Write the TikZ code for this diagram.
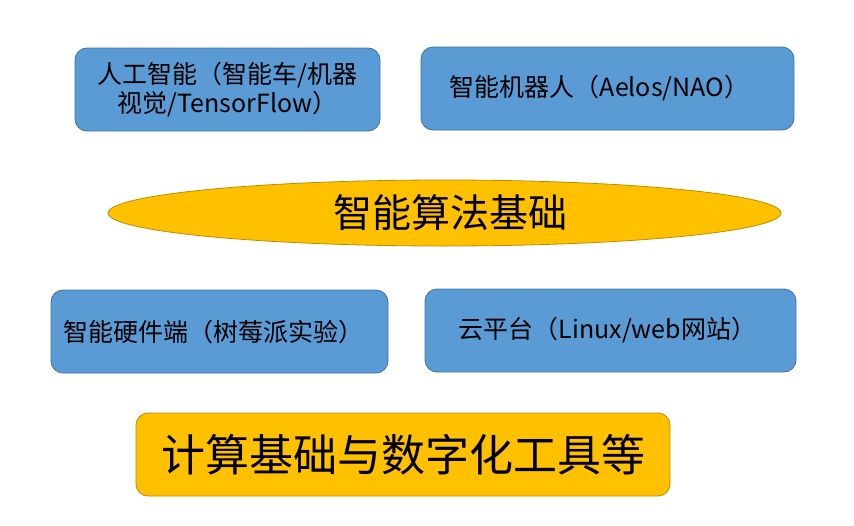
\documentclass[tikz,border=0pt]{standalone}
\usepackage{fontspec}
\setmainfont{Noto Sans CJK SC}
\usetikzlibrary{shapes,positioning,calc}

\definecolor{boxblue}{HTML}{5B9BD5}
\definecolor{lineblue}{HTML}{41719C}
\definecolor{boxgold}{HTML}{FFC000}
\definecolor{linegold}{HTML}{BC8C00}

\begin{document}
\begin{tikzpicture}[x=1pt, y=-1pt,
    bluebox/.style={rectangle, rounded corners=12pt, draw=lineblue, line width=0.8pt, fill=boxblue,
        minimum height=83pt, align=center, font=\fontsize{25}{29}\selectfont},
    goldbox/.style={rectangle, rounded corners=12pt, draw=linegold, line width=0.8pt, fill=boxgold,
        minimum height=83pt, font=\fontsize{44}{50}\selectfont},
    goldoval/.style={ellipse, draw=linegold, line width=0.8pt, fill=boxgold, inner sep=0pt,
        font=\fontsize{39}{44}\selectfont}]
    \useasboundingbox (0,0) rectangle (854,525);

    % Applications
    \node[bluebox, minimum width=305pt] (ai) at (227.5,89.5) {人工智能（智能车/机器\\视觉/TensorFlow）};
    \node[bluebox, minimum width=373pt] (robot) at (607.5,88.5) {智能机器人（Aelos/NAO）\hspace{16pt}};

    % Algorithms
    \node[goldoval, minimum width=673pt, minimum height=66pt] (algo) at (444.5,213) {\hspace{12pt}智能算法基础};

    % Platforms
    \node[bluebox, minimum width=337pt] (hw) at (219.5,331.5) {智能硬件端（树莓派实验）\hspace{12pt}};
    \node[bluebox, minimum width=371pt] (cloud) at (610.5,330.5) {云平台（Linux/web网站）\hspace{6pt}};

    % Foundation
    \node[goldbox, minimum width=534pt] (base) at (403,454.5) {计算基础与数字化工具等};
\end{tikzpicture}
\end{document}
